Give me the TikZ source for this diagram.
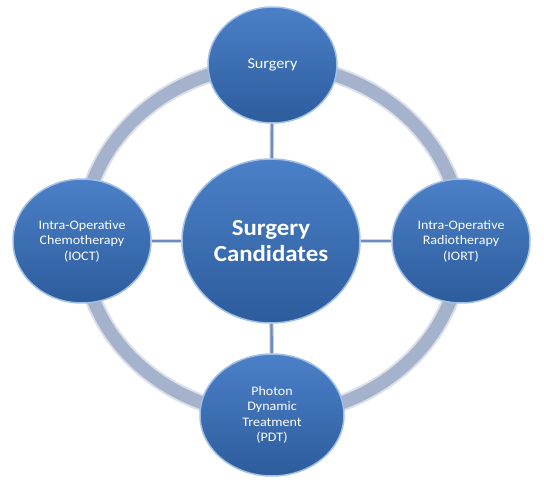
\documentclass[tikz,border=0pt]{standalone}
\usepackage{fontspec}
\setmainfont[FakeStretch=1.08]{Carlito}
\usetikzlibrary{shapes.geometric}
\definecolor{bandedge}{HTML}{D9E0EB}
\definecolor{bandfill}{HTML}{A5B2CB}
\definecolor{linkedge}{HTML}{C8D5E8}
\definecolor{linkfill}{HTML}{6D8BBC}
\definecolor{bluetop}{HTML}{4B80C8}
\definecolor{bluebot}{HTML}{2D5C9C}
\definecolor{bluerim}{HTML}{A2C0E6}
\begin{document}
\begin{tikzpicture}[x=1pt,y=-1pt,
  bubble/.style={ellipse, inner sep=0pt, top color=bluetop, bottom color=bluebot,
    draw=bluerim, line width=1.5pt, text=white, align=center,
    font=\fontsize{13}{15.5}\selectfont},
  outer/.style={bubble, minimum width=138pt, minimum height=124pt},
  band/.style={draw=bandedge, line width=17pt},
  bandin/.style={draw=bandfill, line width=13pt},
  linkout/.style={draw=linkedge, line width=4.5pt},
  linkin/.style={draw=linkfill, line width=2.4pt}]
\useasboundingbox (0,0) rectangle (544,482);
\coordinate (ringc) at (272,240);
\draw[band] (ringc) ellipse [x radius=190, y radius=175];
\draw[bandin] (ringc) ellipse [x radius=190, y radius=175];
\node[bubble, minimum width=178pt, minimum height=164pt,
      font=\bfseries\fontsize{23}{26}\selectfont] (c) at (271,241) {Surgery\\Candidates};
\node[outer, minimum width=129pt, minimum height=116pt,
      font=\fontsize{15}{18}\selectfont] (t) at (272.5,65) {Surgery};
\node[outer] (l) at (82,241) {Intra-Operative\\Chemotherapy\\(IOCT)};
\node[outer] (r) at (461,241) {Intra-Operative\\Radiotherapy\\(IORT)};
\node[outer, minimum width=144pt, minimum height=122pt] (b) at (272,415) {Photon\\Dynamic\\Treatment\\(PDT)};
\foreach \n in {t,l,r,b}{
  \draw[linkout] (c) -- (\n);
  \draw[linkin] (c) -- (\n);
}
\end{tikzpicture}
\end{document}
